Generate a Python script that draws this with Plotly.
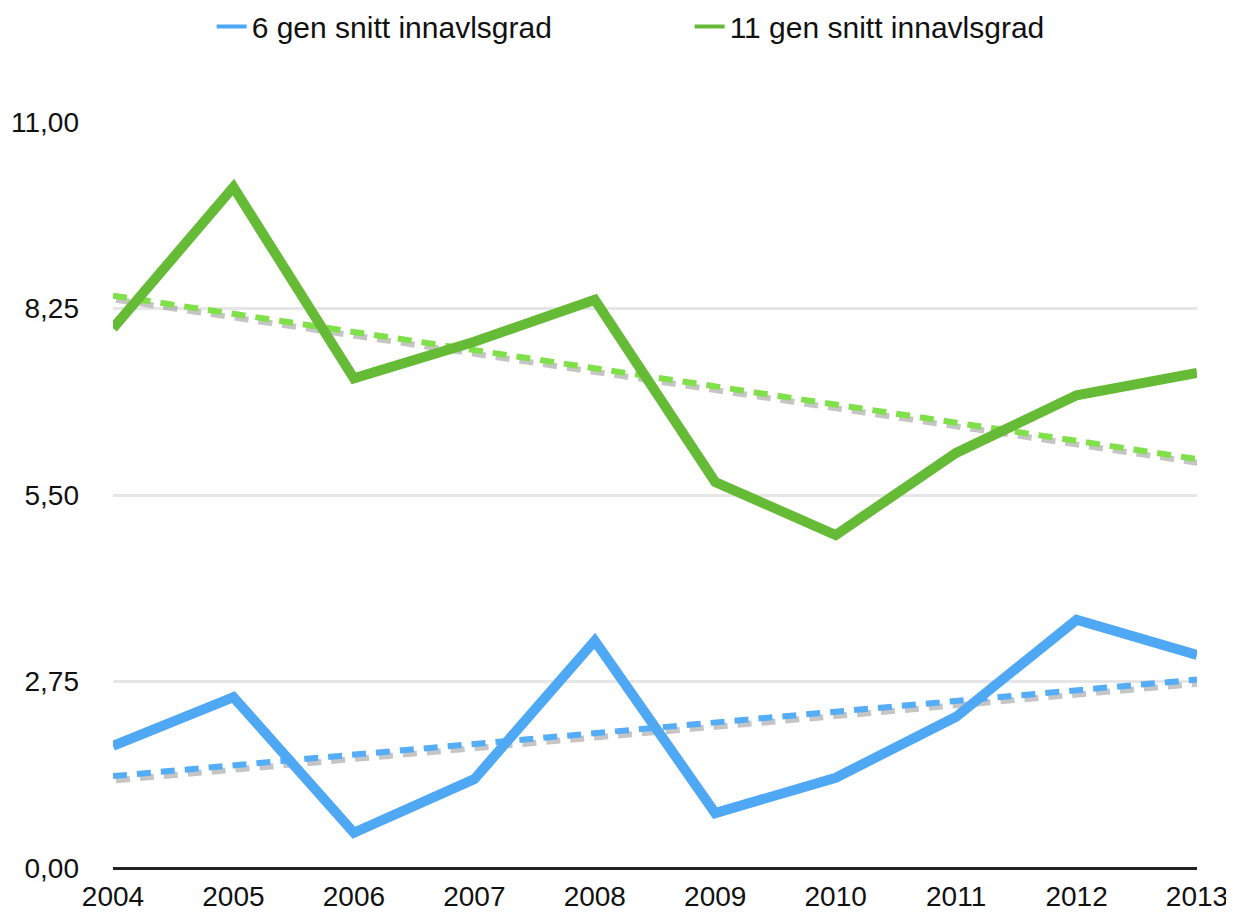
import numpy as np
import plotly.graph_objects as go

years = [2004, 2005, 2006, 2007, 2008, 2009, 2010, 2011, 2012, 2013]
gen6 = [1.80, 2.52, 0.52, 1.31, 3.35, 0.81, 1.33, 2.23, 3.66, 3.14]
gen11 = [7.96, 10.04, 7.22, 7.76, 8.38, 5.69, 4.91, 6.12, 6.97, 7.30]
names = ["6 gen snitt innavlsgrad", "11 gen snitt innavlsgrad"]
y_ticks = [0.0, 2.75, 5.5, 8.25, 11.0]

blue = "#4ea8f4"
green = "#66bb36"
blue_trend = "#55adf8"
green_trend = "#80e04a"

x = np.array(years, dtype=float)

def trend(vals):
    k, b = np.polyfit(x, np.array(vals), 1)
    return k * x + b

fig = go.Figure()
for vals, col, tcol, nm in [(gen6, blue, blue_trend, names[0]), (gen11, green, green_trend, names[1])]:
    t = trend(vals)
    fig.add_trace(go.Scatter(x=x + 0.025, y=t - 0.06, mode="lines", showlegend=False, hoverinfo="skip",
                             line=dict(color="rgba(140,140,140,0.5)", width=6, dash="14px,10px")))
    fig.add_trace(go.Scatter(x=x, y=t, mode="lines", showlegend=False, hoverinfo="skip",
                             line=dict(color=tcol, width=6, dash="14px,10px")))
    fig.add_trace(go.Scatter(x=years, y=vals, mode="lines", name=nm, showlegend=False,
                             line=dict(color=col, width=10)))
    fig.add_trace(go.Scatter(x=[None], y=[None], mode="lines", name=nm,
                             line=dict(color=col, width=4)))

fig.update_layout(
    width=1234, height=912,
    margin=dict(l=105, r=45, t=114, b=52, autoexpand=False),
    paper_bgcolor="white", plot_bgcolor="white",
    font=dict(family="Liberation Sans, Arial, sans-serif", size=28, color="#111"),
    legend=dict(orientation="h", x=0.091, xanchor="left", y=1.128, yanchor="middle",
                font=dict(size=30, color="#111"), itemwidth=30, entrywidth=433,
                traceorder="normal"),
)
fig.update_xaxes(range=[2004, 2013], tickmode="array", tickvals=years,
                 ticktext=[str(y) for y in years], showgrid=False, zeroline=False,
                 showline=False, ticks="", ticklabelstandoff=9,
                 tickfont=dict(size=28, color="#111"))
fig.update_yaxes(range=[0, 11], tickmode="array", tickvals=y_ticks,
                 ticktext=[f"{v:.2f}".replace(".", ",") for v in y_ticks],
                 showgrid=True, gridcolor="#e6e6e6", gridwidth=3,
                 zeroline=True, zerolinecolor="#222", zerolinewidth=3,
                 showline=False, ticks="", ticklabelstandoff=33,
                 tickfont=dict(size=28, color="#111"))

fig.write_html("out.html")
